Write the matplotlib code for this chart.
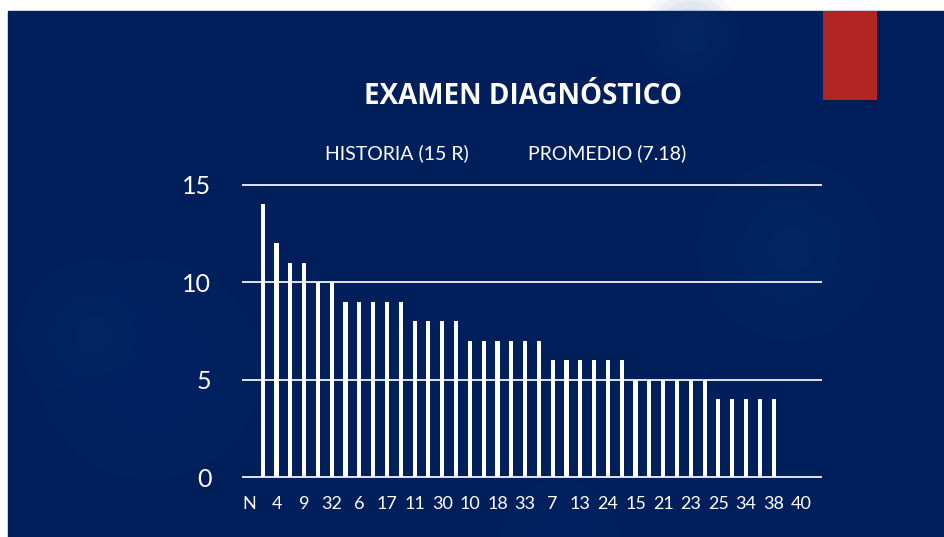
import matplotlib
matplotlib.use("Agg")
import matplotlib.pyplot as plt
from matplotlib.patches import Rectangle, Circle

# ---- data ----
tick_labels = ["N", "4", "9", "32", "6", "17", "11", "30", "10", "18", "33",
               "7", "13", "24", "15", "21", "23", "25", "34", "38", "40"]
values = [0, 14, 12, 11, 11, 10, 10, 9, 9, 9, 9, 9, 8, 8, 8, 8,
          7, 7, 7, 7, 7, 7, 6, 6, 6, 6, 6, 6, 5, 5, 5, 5, 5, 5,
          4, 4, 4, 4, 4, 0, 0, 0]
y_ticks = [0, 5, 10, 15]
title = "EXAMEN DIAGNÓSTICO"
sub_left = "HISTORIA (15 R)"
sub_right = "PROMEDIO (7.18)"

BG = "#011f5b"
W, H = 945, 537
FONT = ["Lato", "DejaVu Sans"]
fig = plt.figure(figsize=(W / 100, H / 100), dpi=100)
fig.patch.set_facecolor("white")

# slide background
bg = fig.add_axes([0, 0, 1, 1])
bg.set_xlim(0, W); bg.set_ylim(H, 0); bg.axis("off")
bg.add_patch(Rectangle((8, 11), W - 8, H - 11, color=BG, zorder=0))
# faint bokeh circles
for (cx, cy, r, a) in [(690, 35, 48, 0.10), (790, 250, 90, 0.08), (95, 335, 75, 0.06),
                       (150, 370, 110, 0.05), (560, 540, 60, 0.05)]:
    for k in range(6):
        bg.add_patch(Circle((cx, cy), r * (1 - k * 0.15), color="#1a4a8a",
                            alpha=a * 0.45, lw=0, zorder=1))
# red accent
bg.add_patch(Rectangle((826, 14), 54, 89, color="#0a1436", alpha=0.35, lw=0, zorder=2))
bg.add_patch(Rectangle((823, 11), 54, 89, color="#b22522", lw=0, zorder=3))

bg.text(523, 96, title, color="white", fontsize=20, fontweight="bold",
        ha="center", va="center", family=["Open Sans", "DejaVu Sans"])
bg.text(397, 153, sub_left, color="white", fontsize=14, ha="center", va="center",
        family=FONT)
bg.text(607, 153, sub_right, color="white", fontsize=14, ha="center", va="center",
        family=FONT)

# chart axes
ax = fig.add_axes([242 / W, (537 - 479) / H, 580 / W, (479 - 183) / H])
ax.set_facecolor("none")
x = list(range(len(values)))
ax.bar(x, values, width=0.3, color="white", zorder=3)
ax.set_xlim(-0.5, len(values) - 0.5)
ax.set_ylim(-0.1, 15.1)
for s in ax.spines.values():
    s.set_visible(False)
for yv in y_ticks:
    ax.axhline(yv, color="#dfe3ec", lw=1.4, zorder=2)
ax.set_yticks(y_ticks)
ax.set_yticklabels([str(v) for v in y_ticks], color="white", fontsize=18,
                   family=FONT)
ax.set_xticks(x[::2])
ax.set_xticklabels(tick_labels, color="white", fontsize=13, family=FONT)
ax.tick_params(axis="y", length=0, pad=22)
ax.tick_params(axis="x", length=0, pad=12)

fig.savefig("out.png", dpi=100, facecolor=fig.get_facecolor())
